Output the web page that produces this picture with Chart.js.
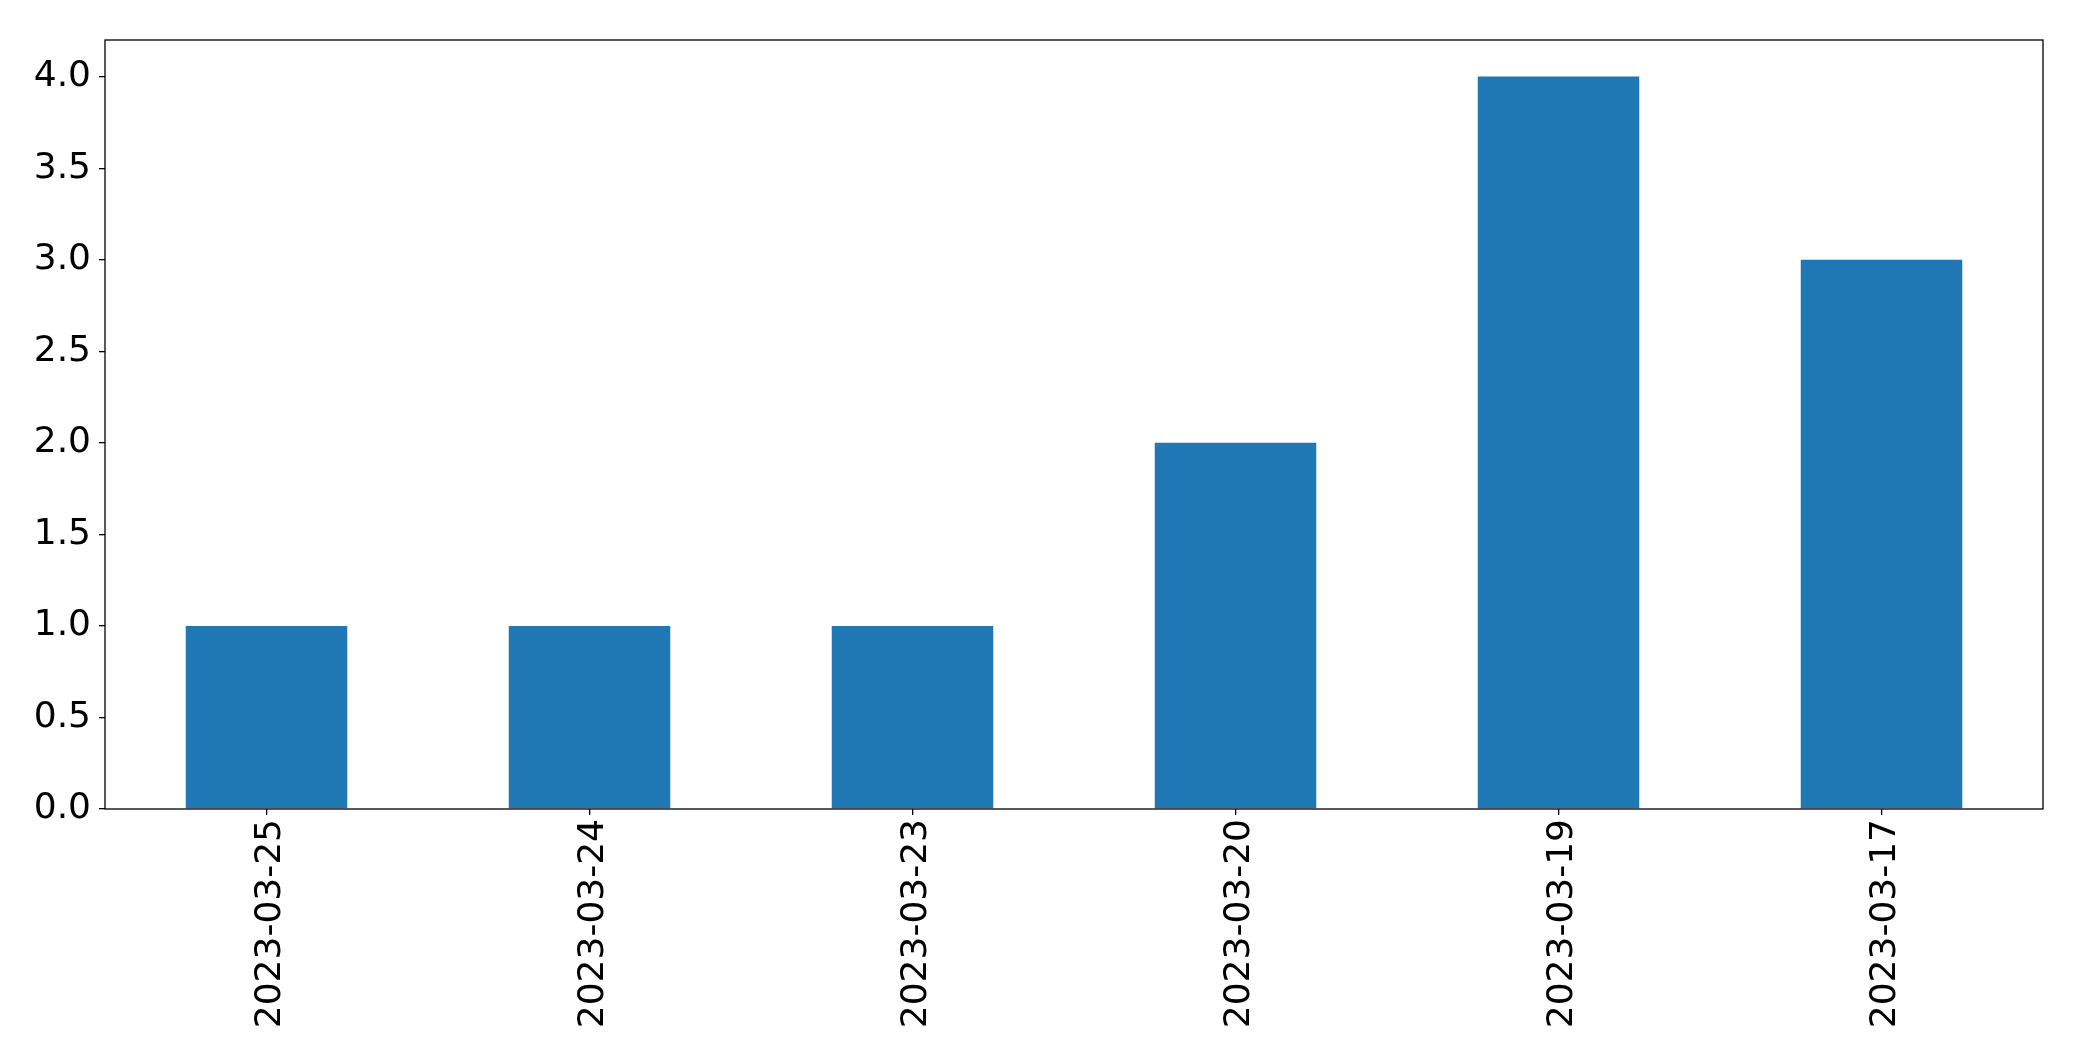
<!DOCTYPE html>
<html>
<head>
<meta charset="utf-8">
<script src="https://cdn.jsdelivr.net/npm/chart.js@4.4.0/dist/chart.umd.min.js"></script>
<style>
  html, body { margin: 0; padding: 0; background: #fff; }
  #wrap { width: 2082px; height: 1061px; position: relative; }
</style>
</head>
<body>
<div id="wrap"><canvas id="c" width="2082" height="1061"></canvas></div>
<script>
const categories = ["2023-03-25", "2023-03-24", "2023-03-23", "2023-03-20", "2023-03-19", "2023-03-17"];
const values = [1, 1, 1, 2, 4, 3];
const yTicks = [0, 0.5, 1, 1.5, 2, 2.5, 3, 3.5, 4];

const FONT = { family: "'DejaVu Sans', sans-serif", size: 36 };

const boxPlugin = {
  id: 'box',
  afterDraw(chart) {
    const a = chart.chartArea;
    const ctx = chart.ctx;
    ctx.save();
    ctx.strokeStyle = '#000';
    ctx.lineWidth = 1.3;
    ctx.strokeRect(a.left, a.top, a.right - a.left, a.bottom - a.top);
    ctx.restore();
  }
};

new Chart(document.getElementById('c'), {
  type: 'bar',
  data: {
    labels: categories,
    datasets: [{
      data: values,
      backgroundColor: '#1f77b4',
      borderWidth: 0,
      barPercentage: 0.5,
      categoryPercentage: 1.0
    }]
  },
  options: {
    responsive: false,
    animation: false,
    devicePixelRatio: 1,
    layout: { padding: { left: 0, top: 40, right: 39, bottom: 0 } },
    plugins: { legend: { display: false }, tooltip: { enabled: false } },
    scales: {
      x: {
        offset: true,
        grid: { display: true, drawOnChartArea: false, color: '#000', tickLength: 6, lineWidth: 1.3, offset: false },
        border: { display: false },
        ticks: {
          color: '#000', font: FONT, minRotation: 90, maxRotation: 90, padding: 4, autoSkip: false, labelOffset: 4
        },
        afterFit(scale) { scale.height = 252; }
      },
      y: {
        min: 0, max: 4.2,
        grid: { display: true, drawOnChartArea: false, color: '#000', tickLength: 6, lineWidth: 1.3 },
        border: { display: false },
        afterBuildTicks(scale) { scale.ticks = yTicks.map(v => ({ value: v })); },
        ticks: {
          color: '#000', font: FONT, padding: 8,
          callback: (v) => Number(v).toFixed(1)
        },
        afterFit(scale) { scale.width = 105; }
      }
    }
  },
  plugins: [boxPlugin]
});
</script>
</body>
</html>
